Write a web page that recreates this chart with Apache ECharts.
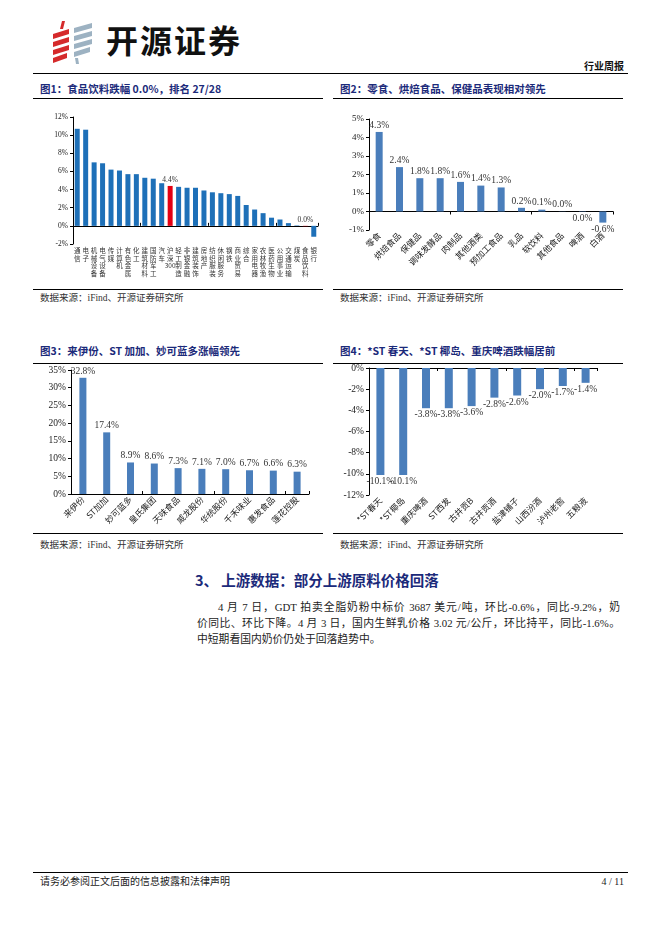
<!DOCTYPE html>
<html>
<head>
<meta charset="utf-8">
<title>行业周报</title>
<script src="https://cdn.jsdelivr.net/npm/echarts@6/dist/echarts.min.js"></script>
<style>
body { margin:0; background:#fff; font-family:"Liberation Serif","Noto Sans CJK SC",serif; color:#222; }
#page { position:relative; width:662px; height:936px; overflow:hidden; }
.abs { position:absolute; white-space:nowrap; }
.rule { position:absolute; height:1px; background:#000; z-index:3; }
.ftitle { position:absolute; font-family:"Noto Sans CJK SC",sans-serif; font-weight:bold; font-size:10.5px; color:#1b2a7a; line-height:14px; }
.src { position:absolute; font-family:"Liberation Serif","Noto Sans CJK SC",serif; font-size:9.5px; color:#333; line-height:12px; }
.chart { position:absolute; width:290px; }
.para { position:absolute; left:197px; width:423px; font-size:10.8px; line-height:16px; color:#222; text-align:justify; text-align-last:justify; }
</style>
</head>
<body>
<div id="page">
  <svg class="abs" style="left:50px;top:18px" width="50" height="48" viewBox="0 0 50 48">
    <polygon points="12,3 15,3 13,11 10,11" fill="#d52a2b"/>
    <polygon points="3,16 19,11 19,16 3,21" fill="#d52a2b"/>
    <polygon points="3,24 19,19 19,24 3,29" fill="#d52a2b"/>
    <polygon points="3,32 19,27 19,32 3,37" fill="#d52a2b"/>
    <polygon points="3,40 17,35 17,40 3,45" fill="#d52a2b"/>
    <polygon points="24,10 42,5 42,10 24,15" fill="#9db2c2"/>
    <polygon points="24,18 42,13 42,18 24,23" fill="#9db2c2"/>
    <polygon points="24,26 42,21 42,26 24,31" fill="#9db2c2"/>
    <polygon points="24,34 40,29 40,34 24,39" fill="#9db2c2"/>
    <polygon points="25,40 28,40 29,46 26,46" fill="#9db2c2"/>
  </svg>
  <div class="abs" style="left:106px;top:19px;font-family:'Noto Sans CJK SC',sans-serif;font-weight:bold;font-size:32px;letter-spacing:2px;line-height:40px;color:#111;">开源证券</div>
  <div class="abs" style="right:38px;top:60px;font-family:'Noto Sans CJK SC',sans-serif;font-weight:bold;font-size:10px;line-height:12px;color:#111;">行业周报</div>
  <div class="rule" style="left:33px;top:73px;width:595px;height:1.3px;"></div>

  <div class="ftitle" style="left:40px;top:82px;">图1：食品饮料跌幅 0.0%，排名 27/28</div>
  <div class="ftitle" style="left:340px;top:82px;">图2：零食、烘焙食品、保健品表现相对领先</div>
  <div class="rule" style="left:33px;top:98px;width:290px;"></div>
  <div class="rule" style="left:333px;top:98px;width:290px;"></div>
  <div id="fig1" class="chart" style="left:33px;top:100px;height:189px;"></div>
  <div id="fig2" class="chart" style="left:333px;top:100px;height:189px;"></div>
  <div class="rule" style="left:33px;top:289px;width:290px;"></div>
  <div class="rule" style="left:333px;top:289px;width:290px;"></div>
  <div class="src" style="left:40px;top:292px;">数据来源：iFind、开源证券研究所</div>
  <div class="src" style="left:340px;top:292px;">数据来源：iFind、开源证券研究所</div>

  <div class="ftitle" style="left:40px;top:344px;">图3：来伊份、ST 加加、妙可蓝多涨幅领先</div>
  <div class="ftitle" style="left:340px;top:344px;">图4：*ST 春天、*ST 椰岛、重庆啤酒跌幅居前</div>
  <div class="rule" style="left:33px;top:363px;width:290px;"></div>
  <div class="rule" style="left:333px;top:363px;width:290px;"></div>
  <div id="fig3" class="chart" style="left:33px;top:364px;height:169px;"></div>
  <div id="fig4" class="chart" style="left:333px;top:364px;height:169px;"></div>
  <div class="rule" style="left:33px;top:533px;width:290px;"></div>
  <div class="rule" style="left:333px;top:533px;width:290px;"></div>
  <div class="src" style="left:40px;top:539px;">数据来源：iFind、开源证券研究所</div>
  <div class="src" style="left:340px;top:539px;">数据来源：iFind、开源证券研究所</div>

  <div class="abs" style="left:195px;top:570px;font-family:'Noto Sans CJK SC',sans-serif;font-weight:bold;font-size:14.5px;line-height:20px;color:#1b2a7a;">3、 上游数据：部分上游原料价格回落</div>
  <div class="para" style="top:599px;text-indent:21px;">4 月 7 日，GDT 拍卖全脂奶粉中标价 3687 美元/吨，环比-0.6%，同比-9.2%，奶</div>
  <div class="para" style="top:615px;">价同比、环比下降。4 月 3 日，国内生鲜乳价格 3.02 元/公斤，环比持平，同比-1.6%。</div>
  <div class="para" style="top:631px;text-align-last:left;">中短期看国内奶价仍处于回落趋势中。</div>

  <div class="rule" style="left:33px;top:872px;width:595px;"></div>
  <div class="abs" style="left:40px;top:875px;font-size:10px;line-height:13px;color:#222;">请务必参阅正文后面的信息披露和法律声明</div>
  <div class="abs" style="right:38px;top:875px;font-size:10px;line-height:13px;color:#222;">4 / 11</div>
</div>

<script>
// 图1 申万一级行业周涨跌幅
var fig1Cats = ['通信','电子','机械设备','电气设备','传媒','计算机','有色金属','化工','建筑材料','国防军工','汽车','沪深300','轻工制造','非银金融','建筑装饰','房地产','纺织服装','休闲服务','钢铁','商业贸易','综合','家用电器','农林牧渔','医药生物','公用事业','交通运输','煤炭','食品饮料','银行'];
var fig1Vals = [10.7, 10.6, 7.0, 6.9, 6.2, 6.1, 5.7, 5.7, 5.3, 5.2, 4.7, 4.4, 4.3, 4.2, 4.2, 3.9, 3.7, 3.6, 3.5, 3.3, 2.3, 1.8, 1.4, 0.9, 0.7, 0.3, 0.05, -0.04, -1.2];
var fig1Red = ['沪深300', '食品饮料'];
var fig1Axis = [-2, 12, 2];

// 图2 食品饮料子板块
var fig2Cats = ['零食','烘焙食品','保健品','调味发酵品','肉制品','其他酒类','预加工食品','乳品','软饮料','其他食品','啤酒','白酒'];
var fig2Vals = [4.3, 2.4, 1.8, 1.8, 1.6, 1.4, 1.3, 0.2, 0.1, 0.01, -0.02, -0.6];
var fig2Axis = [-1, 5, 1];

// 图3 涨幅前十
var fig3Cats = ['来伊份','ST加加','妙可蓝多','皇氏集团','天味食品','威龙股份','华统股份','千禾味业','惠发食品','莲花控股'];
var fig3Vals = [32.8, 17.4, 8.9, 8.6, 7.3, 7.1, 7.0, 6.7, 6.6, 6.3];
var fig3Axis = [0, 35, 5];

// 图4 跌幅前十
var fig4Cats = ['*ST春天','*ST椰岛','重庆啤酒','ST西发','古井贡B','古井贡酒','盐津铺子','山西汾酒','泸州老窖','五粮液'];
var fig4Vals = [-10.1, -10.1, -3.8, -3.8, -3.6, -2.8, -2.6, -2.0, -1.7, -1.4];
var fig4Axis = [-12, 0, 2];

var SERIF = '"Liberation Serif", "Noto Sans CJK SC", serif';

function pct(v) {
	var r = Math.round(v * 10) / 10;
	if (Math.abs(r) < 1e-9) r = 0;
	return r.toFixed(1) + '%';
}

function makeBar(id, cats, vals, axis, cfg) {
	var myChart = echarts.init(document.getElementById(id), null, {renderer: 'canvas'});
	var data = vals.map(function(v, i) {
		var item = {value: v, label: {position: v < 0 ? 'bottom' : 'top'}};
		if (cfg.itemFn) cfg.itemFn(item, cats[i], v);
		return item;
	});
	var option = {
		animation: false,
		grid: {left: cfg.grid[0], right: cfg.grid[1], top: cfg.grid[2], bottom: cfg.grid[3], containLabel: false, outerBoundsMode: 'none'},
		xAxis: [
			{
				type: 'category',
				data: cats,
				position: 'bottom',
				axisLine: {show: false, onZero: false},
				axisTick: {show: false},
				axisLabel: cfg.catLabel
			},
			{
				type: 'category',
				data: cats,
				position: 'bottom',
				axisLine: {show: true, onZero: true, lineStyle: {color: '#000', width: 1}},
				axisTick: {show: true, inside: cfg.tickInside, length: 3, lineStyle: {color: '#000'}},
				axisLabel: {show: false}
			}
		],
		yAxis: {
			type: 'value',
			min: axis[0],
			max: axis[1],
			interval: axis[2],
			axisLine: {show: true, lineStyle: {color: '#000', width: 1}},
			axisTick: {show: true, length: 3, lineStyle: {color: '#000'}},
			splitLine: {show: false},
			axisLabel: {formatter: '{value}%', color: '#222', fontFamily: SERIF, fontSize: cfg.yFont, margin: 5}
		},
		series: [{
			type: 'bar',
			xAxisIndex: 0,
			barWidth: cfg.barWidth,
			itemStyle: {color: cfg.color},
			label: {
				show: cfg.showLabels,
				color: '#333',
				fontFamily: SERIF,
				fontSize: cfg.valFont,
				distance: 2,
				formatter: function(p) { return pct(p.value); }
			},
			data: data
		}]
	};
	myChart.setOption(option);
	return myChart;
}

makeBar('fig1', fig1Cats, fig1Vals, fig1Axis, {
	grid: [40, 5, 17, 45],
	color: '#1e70b8',
	barWidth: 5,
	yFont: 7.5,
	valFont: 7.5,
	showLabels: false,
	tickInside: true,
	catLabel: {
		interval: 0,
		fontSize: 6.5,
		lineHeight: 7.5,
		color: '#333',
		fontFamily: '"Noto Sans CJK SC", sans-serif',
		verticalAlign: 'top',
		margin: 3,
		formatter: function(v) {
			return v.replace('300', '#').split('').join('\n').replace('#', '300');
		}
	},
	itemFn: function(item, cat) {
		if (fig1Red.indexOf(cat) >= 0) {
			item.itemStyle = {color: '#e50012'};
			item.label.show = true;
			item.label.position = 'top';
		}
	}
});

var rotLabel = {
	interval: 0,
	rotate: 45,
	fontSize: 8.5,
	color: '#222',
	fontFamily: '"Noto Sans CJK SC", sans-serif',
	margin: 4
};

makeBar('fig2', fig2Cats, fig2Vals, fig2Axis, {
	grid: [36, 10, 19, 59],
	color: '#4a7ebb',
	barWidth: 7,
	yFont: 9,
	valFont: 9.5,
	showLabels: true,
	tickInside: false,
	catLabel: rotLabel
});

makeBar('fig3', fig3Cats, fig3Vals, fig3Axis, {
	grid: [38, 14, 6, 39],
	color: '#4a7ebb',
	barWidth: 7,
	yFont: 9.5,
	valFont: 9.5,
	showLabels: true,
	tickInside: true,
	catLabel: rotLabel
});

makeBar('fig4', fig4Cats, fig4Vals, fig4Axis, {
	grid: [36, 26, 4, 38],
	color: '#4a7ebb',
	barWidth: 8,
	yFont: 9.5,
	valFont: 9.5,
	showLabels: true,
	tickInside: false,
	catLabel: rotLabel
});
</script>
</body>
</html>
